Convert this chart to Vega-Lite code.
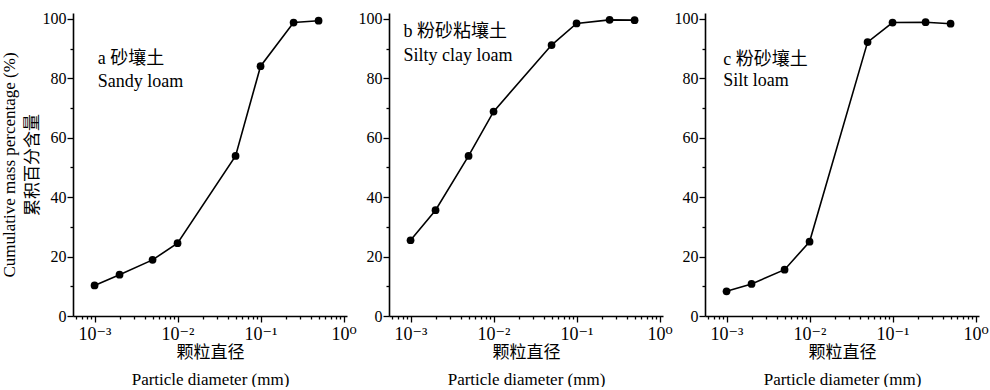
{
  "$schema": "https://vega.github.io/schema/vega-lite/v6.json",
  "padding": {"left": 0, "top": 10, "right": 0, "bottom": 0},
  "background": "white",
  "datasets": {
    "pts": [
      {"panel": "a", "d": 0.001, "p": 10.3},
      {"panel": "a", "d": 0.002, "p": 13.9},
      {"panel": "a", "d": 0.005, "p": 18.9},
      {"panel": "a", "d": 0.01, "p": 24.5},
      {"panel": "a", "d": 0.05, "p": 53.9},
      {"panel": "a", "d": 0.1, "p": 84.1},
      {"panel": "a", "d": 0.25, "p": 98.8},
      {"panel": "a", "d": 0.5, "p": 99.4},
      {"panel": "b", "d": 0.001, "p": 25.5},
      {"panel": "b", "d": 0.002, "p": 35.6},
      {"panel": "b", "d": 0.005, "p": 53.9},
      {"panel": "b", "d": 0.01, "p": 68.8},
      {"panel": "b", "d": 0.05, "p": 91.2},
      {"panel": "b", "d": 0.1, "p": 98.5},
      {"panel": "b", "d": 0.25, "p": 99.7},
      {"panel": "b", "d": 0.5, "p": 99.6},
      {"panel": "c", "d": 0.001, "p": 8.3},
      {"panel": "c", "d": 0.002, "p": 10.8},
      {"panel": "c", "d": 0.005, "p": 15.6},
      {"panel": "c", "d": 0.01, "p": 25.0},
      {"panel": "c", "d": 0.05, "p": 92.2},
      {"panel": "c", "d": 0.1, "p": 98.8},
      {"panel": "c", "d": 0.25, "p": 98.9},
      {"panel": "c", "d": 0.5, "p": 98.4}
    ],
    "lab": [
      {"panel": "a", "d": 0.00109, "p": 86.5, "t": "a 砂壤土"},
      {"panel": "a", "d": 0.00109, "p": 78.8, "t": "Sandy loam"},
      {"panel": "b", "d": 0.00082, "p": 95.6, "t": "b 粉砂粘壤土"},
      {"panel": "b", "d": 0.00082, "p": 87.5, "t": "Silty clay loam"},
      {"panel": "c", "d": 0.00091, "p": 86.3, "t": "c 粉砂壤土"},
      {"panel": "c", "d": 0.00091, "p": 79.0, "t": "Silt loam"}
    ]
  },
  "config": {
    "view": {"stroke": null},
    "font": "Liberation Serif, Noto Sans CJK SC",
    "axis": {
      "grid": false,
      "domainColor": "black",
      "domainWidth": 1.6,
      "tickColor": "black",
      "tickWidth": 1.3,
      "labelColor": "black",
      "labelFont": "Liberation Serif, DejaVu Serif",
      "labelFontSize": 16,
      "labelOverlap": false,
      "labelFlush": false,
      "titleColor": "black",
      "titleFont": "Liberation Serif, Noto Sans CJK SC",
      "titleFontWeight": "normal",
      "titleFontSize": 17
    },
    "axisX": {"labelFontSize": 18}
  },
  "bounds": "flush",
  "spacing": 42,
  "hconcat": [
    {
      "width": 274,
      "height": 303,
      "encoding": {
        "x": {
          "field": "d", "type": "quantitative",
          "scale": {"type": "log", "domain": [0.00055, 1.1]},
          "axis": {
            "values": [0.0006,0.0007,0.0008,0.0009,0.001,0.002,0.003,0.004,0.005,0.006,0.007,0.008,0.009,0.01,0.02,0.03,0.04,0.05,0.06,0.07,0.08,0.09,0.1,0.2,0.3,0.4,0.5,0.6,0.7,0.8,0.9,1],
            "labelExpr": "datum.value == 0.001 ? '10⁻³' : datum.value == 0.01 ? '10⁻²' : datum.value == 0.1 ? '10⁻¹' : datum.value == 1 ? '10⁰' : ''",
            "tickSize": {"condition": {"test": "datum.value == 0.001 || datum.value == 0.01 || datum.value == 0.1 || datum.value == 1", "value": 6}, "value": 3},
            "labelPadding": 3,
            "title": ["颗粒直径", "Particle diameter (mm)"],
            "titleLineHeight": 27,
            "titlePadding": 1
          }
        },
        "y": {
          "field": "p", "type": "quantitative",
          "scale": {"domain": [0, 102], "nice": false},
          "axis": {
            "values": [0,10,20,30,40,50,60,70,80,90,100],
            "labelExpr": "datum.value % 20 == 0 ? datum.label : ''",
            "tickSize": {"condition": {"test": "datum.value % 20 == 0", "value": 6}, "value": 3},
            "labelPadding": 1,
            "title": ["Cumulative mass percentage (%)", "累积百分含量"],
            "titleLineHeight": 23,
            "titlePadding": 1
          }
        }
      },
      "layer": [
        {"data": {"name": "pts"}, "transform": [{"filter": "datum.panel == 'a'"}], "mark": {"type": "line", "color": "black", "strokeWidth": 1.6}},
        {"data": {"name": "pts"}, "transform": [{"filter": "datum.panel == 'a'"}], "mark": {"type": "point", "filled": true, "color": "black", "opacity": 1, "size": 60}},
        {"data": {"name": "lab"}, "transform": [{"filter": "datum.panel == 'a'"}], "mark": {"type": "text", "align": "left", "baseline": "middle", "fontSize": 18, "color": "black", "font": "Liberation Serif, Noto Sans CJK SC"}, "encoding": {"text": {"field": "t"}}}
      ]
    },
    {
      "width": 274,
      "height": 303,
      "encoding": {
        "x": {
          "field": "d", "type": "quantitative",
          "scale": {"type": "log", "domain": [0.00055, 1.1]},
          "axis": {
            "values": [0.0006,0.0007,0.0008,0.0009,0.001,0.002,0.003,0.004,0.005,0.006,0.007,0.008,0.009,0.01,0.02,0.03,0.04,0.05,0.06,0.07,0.08,0.09,0.1,0.2,0.3,0.4,0.5,0.6,0.7,0.8,0.9,1],
            "labelExpr": "datum.value == 0.001 ? '10⁻³' : datum.value == 0.01 ? '10⁻²' : datum.value == 0.1 ? '10⁻¹' : datum.value == 1 ? '10⁰' : ''",
            "tickSize": {"condition": {"test": "datum.value == 0.001 || datum.value == 0.01 || datum.value == 0.1 || datum.value == 1", "value": 6}, "value": 3},
            "labelPadding": 3,
            "title": ["颗粒直径", "Particle diameter (mm)"],
            "titleLineHeight": 27,
            "titlePadding": 1
          }
        },
        "y": {
          "field": "p", "type": "quantitative",
          "scale": {"domain": [0, 102], "nice": false},
          "axis": {
            "values": [0,10,20,30,40,50,60,70,80,90,100],
            "labelExpr": "datum.value % 20 == 0 ? datum.label : ''",
            "tickSize": {"condition": {"test": "datum.value % 20 == 0", "value": 6}, "value": 3},
            "labelPadding": 1,
            "title": null
          }
        }
      },
      "layer": [
        {"data": {"name": "pts"}, "transform": [{"filter": "datum.panel == 'b'"}], "mark": {"type": "line", "color": "black", "strokeWidth": 1.6}},
        {"data": {"name": "pts"}, "transform": [{"filter": "datum.panel == 'b'"}], "mark": {"type": "point", "filled": true, "color": "black", "opacity": 1, "size": 60}},
        {"data": {"name": "lab"}, "transform": [{"filter": "datum.panel == 'b'"}], "mark": {"type": "text", "align": "left", "baseline": "middle", "fontSize": 18, "color": "black", "font": "Liberation Serif, Noto Sans CJK SC"}, "encoding": {"text": {"field": "t"}}}
      ]
    },
    {
      "width": 274,
      "height": 303,
      "encoding": {
        "x": {
          "field": "d", "type": "quantitative",
          "scale": {"type": "log", "domain": [0.00055, 1.1]},
          "axis": {
            "values": [0.0006,0.0007,0.0008,0.0009,0.001,0.002,0.003,0.004,0.005,0.006,0.007,0.008,0.009,0.01,0.02,0.03,0.04,0.05,0.06,0.07,0.08,0.09,0.1,0.2,0.3,0.4,0.5,0.6,0.7,0.8,0.9,1],
            "labelExpr": "datum.value == 0.001 ? '10⁻³' : datum.value == 0.01 ? '10⁻²' : datum.value == 0.1 ? '10⁻¹' : datum.value == 1 ? '10⁰' : ''",
            "tickSize": {"condition": {"test": "datum.value == 0.001 || datum.value == 0.01 || datum.value == 0.1 || datum.value == 1", "value": 6}, "value": 3},
            "labelPadding": 3,
            "title": ["颗粒直径", "Particle diameter (mm)"],
            "titleLineHeight": 27,
            "titlePadding": 1
          }
        },
        "y": {
          "field": "p", "type": "quantitative",
          "scale": {"domain": [0, 102], "nice": false},
          "axis": {
            "values": [0,10,20,30,40,50,60,70,80,90,100],
            "labelExpr": "datum.value % 20 == 0 ? datum.label : ''",
            "tickSize": {"condition": {"test": "datum.value % 20 == 0", "value": 6}, "value": 3},
            "labelPadding": 1,
            "title": null
          }
        }
      },
      "layer": [
        {"data": {"name": "pts"}, "transform": [{"filter": "datum.panel == 'c'"}], "mark": {"type": "line", "color": "black", "strokeWidth": 1.6}},
        {"data": {"name": "pts"}, "transform": [{"filter": "datum.panel == 'c'"}], "mark": {"type": "point", "filled": true, "color": "black", "opacity": 1, "size": 60}},
        {"data": {"name": "lab"}, "transform": [{"filter": "datum.panel == 'c'"}], "mark": {"type": "text", "align": "left", "baseline": "middle", "fontSize": 18, "color": "black", "font": "Liberation Serif, Noto Sans CJK SC"}, "encoding": {"text": {"field": "t"}}}
      ]
    }
  ]
}
